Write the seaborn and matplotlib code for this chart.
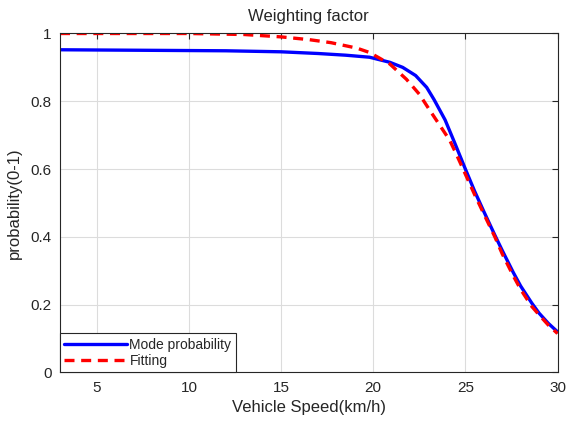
import matplotlib
matplotlib.use("Agg")
import matplotlib.pyplot as plt
import seaborn as sns
import pandas as pd

# values
speed_mode = [3, 6, 9, 12, 15, 17, 18.5, 19.8, 20.9, 21.6, 22.3, 22.9, 23.3, 23.9,
              24.4, 25, 25.5, 26, 26.6, 27, 27.6, 28, 28.6, 29, 29.5, 30]
prob_mode = [0.952, 0.951, 0.950, 0.949, 0.946, 0.941, 0.936, 0.930, 0.915, 0.900,
             0.876, 0.841, 0.805, 0.745, 0.680, 0.600, 0.535, 0.475, 0.405, 0.360,
             0.295, 0.255, 0.205, 0.175, 0.145, 0.120]

speed_fit = [3, 10, 13, 15, 16.5, 17.7, 19.1, 19.8, 20.9, 21.8, 22.5, 23.05, 23.6,
             24.15, 24.5, 25, 25.5, 26, 26.6, 27, 27.6, 28, 28.6, 29, 29.5, 30]
prob_fit = [1.0, 1.0, 0.997, 0.990, 0.982, 0.973, 0.957, 0.944, 0.910, 0.865, 0.821,
            0.775, 0.730, 0.685, 0.645, 0.585, 0.525, 0.468, 0.400, 0.350, 0.285,
            0.245, 0.195, 0.170, 0.140, 0.115]

df_mode = pd.DataFrame({"speed": speed_mode, "prob": prob_mode})
df_fit = pd.DataFrame({"speed": speed_fit, "prob": prob_fit})

sns.set_style("whitegrid")
plt.rcParams["font.family"] = ["Liberation Sans", "DejaVu Sans"]

fig = plt.figure(figsize=(5.66, 4.24), dpi=100)
ax = fig.add_axes([0.106, 0.1215, 0.879, 0.7995])

sns.lineplot(data=df_mode, x="speed", y="prob", ax=ax, color="#0000ff",
             linewidth=2.4, label="Mode probability")
sns.lineplot(data=df_fit, x="speed", y="prob", ax=ax, color="#ff0000",
             linewidth=2.4, linestyle=(0, (3, 2)), label="Fitting")

ax.set_xlim(3, 30)
ax.set_ylim(0, 1)
ax.set_xticks([5, 10, 15, 20, 25, 30])
ax.set_yticks([0, 0.2, 0.4, 0.6, 0.8, 1])
ax.set_yticklabels(["0", "0.2", "0.4", "0.6", "0.8", "1"])
ax.grid(True, color="#dcdcdc", linewidth=0.8)
for s in ax.spines.values():
    s.set_visible(True)
    s.set_color("#262626")
    s.set_linewidth(0.8)
ax.tick_params(direction="in", top=True, right=True, length=4, width=0.8,
               labelsize=11, colors="#262626", pad=6)

ax.set_title("Weighting factor", fontsize=12, pad=9)
ax.set_xlabel("Vehicle Speed(km/h)", fontsize=12, labelpad=4)
ax.set_ylabel("probability(0-1)", fontsize=12, labelpad=6)

leg = ax.legend(loc="lower left", fontsize=10, frameon=True, fancybox=False,
                edgecolor="#262626", framealpha=1, handlelength=4.5,
                handletextpad=0.2, borderpad=0.3, labelspacing=0.2,
                borderaxespad=0)
leg.get_frame().set_linewidth(0.8)

fig.savefig("out.png", dpi=100)
